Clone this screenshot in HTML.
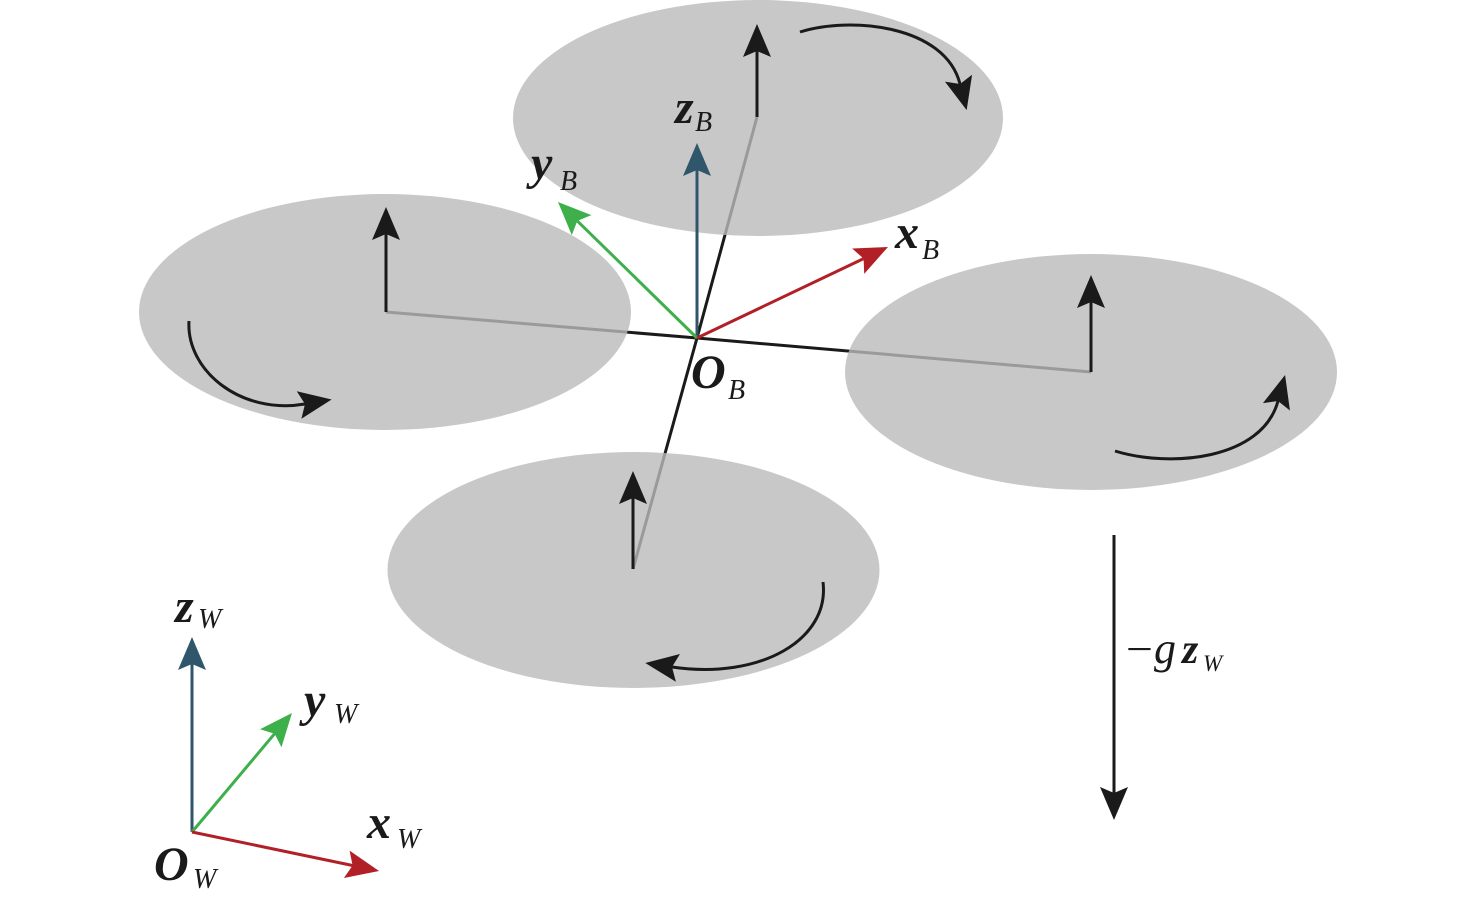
<!DOCTYPE html>
<html>
<head>
<meta charset="utf-8">
<style>
  html,body{margin:0;padding:0;background:#fff;}
  svg{display:block;}
  text{font-family:"Liberation Serif","Times New Roman",Times,serif;}
  .v{font-weight:bold;font-style:italic;font-size:48px;fill:#1a1a1a;}
  .s{font-style:italic;font-size:28px;fill:#1a1a1a;}
</style>
</head>
<body>
<svg width="1476" height="906" viewBox="0 0 1476 906" xmlns="http://www.w3.org/2000/svg">
  <defs>
    <marker id="ak" markerUnits="userSpaceOnUse" markerWidth="34" markerHeight="29" refX="6" refY="14" orient="auto" overflow="visible">
      <path d="M0,0 L33,14 L0,28 L6,14 Z" fill="#1a1a1a"/>
    </marker>
    <marker id="ab" markerUnits="userSpaceOnUse" markerWidth="34" markerHeight="29" refX="6" refY="14" orient="auto" overflow="visible">
      <path d="M0,0 L33,14 L0,28 L6,14 Z" fill="#2f566b"/>
    </marker>
    <marker id="ag" markerUnits="userSpaceOnUse" markerWidth="34" markerHeight="29" refX="6" refY="14" orient="auto" overflow="visible">
      <path d="M0,0 L33,14 L0,28 L6,14 Z" fill="#3db04b"/>
    </marker>
    <marker id="ar" markerUnits="userSpaceOnUse" markerWidth="34" markerHeight="29" refX="6" refY="14" orient="auto" overflow="visible">
      <path d="M0,0 L33,14 L0,28 L6,14 Z" fill="#b22027"/>
    </marker>
  </defs>

  <!-- arms -->
  <g stroke="#1a1a1a" stroke-width="3" fill="none">
    <line x1="697" y1="338" x2="757" y2="117"/>
    <line x1="697" y1="338" x2="386" y2="312"/>
    <line x1="697" y1="338" x2="1091" y2="372"/>
    <line x1="697" y1="338" x2="633" y2="569"/>
  </g>

  <!-- rotor discs -->
  <g fill="rgb(186,186,186)" fill-opacity="0.8">
    <ellipse cx="758" cy="118" rx="245" ry="118"/>
    <ellipse cx="385" cy="312" rx="246" ry="118"/>
    <ellipse cx="1091" cy="372" rx="246" ry="118"/>
    <ellipse cx="633.5" cy="570" rx="246" ry="118"/>
  </g>

  <!-- thrust arrows -->
  <g stroke="#1a1a1a" stroke-width="3" fill="none" marker-end="url(#ak)">
    <line x1="757" y1="117" x2="757" y2="51"/>
    <line x1="386" y1="312" x2="386" y2="234"/>
    <line x1="1091" y1="372" x2="1091" y2="302"/>
    <line x1="633" y1="569" x2="633" y2="498"/>
  </g>

  <!-- rotation arcs -->
  <g stroke="#1a1a1a" stroke-width="3" fill="none" marker-end="url(#ak)">
    <path d="M800,32 C850,16 945,25 960,84"/>
    <path d="M189,321 C186,370 240,415 305,404"/>
    <path d="M1115,451 C1170,468 1262,460 1278,401"/>
    <path d="M823,582 C830,640 760,680 672,667"/>
  </g>

  <!-- body frame axes -->
  <line x1="697" y1="338" x2="697" y2="170" stroke="#2f566b" stroke-width="3" marker-end="url(#ab)"/>
  <line x1="697" y1="338" x2="577.3" y2="220.9" stroke="#3db04b" stroke-width="3" marker-end="url(#ag)"/>
  <line x1="697" y1="338" x2="863.6" y2="258.6" stroke="#b22027" stroke-width="3" marker-end="url(#ar)"/>

  <!-- world frame axes -->
  <line x1="192" y1="832" x2="192" y2="664" stroke="#2f566b" stroke-width="3" marker-end="url(#ab)"/>
  <line x1="192" y1="832" x2="274.6" y2="733.7" stroke="#3db04b" stroke-width="3" marker-end="url(#ag)"/>
  <line x1="192" y1="832" x2="352.6" y2="865.5" stroke="#b22027" stroke-width="3" marker-end="url(#ar)"/>

  <!-- gravity -->
  <line x1="1114" y1="535" x2="1114" y2="793" stroke="#1a1a1a" stroke-width="3" marker-end="url(#ak)"/>

  <!-- labels body -->
  <text class="v" x="675" y="123">z</text><text class="s" x="695" y="131">B</text>
  <text class="v" x="531" y="179">y</text><text class="s" x="560" y="190">B</text>
  <text class="v" x="895" y="248">x</text><text class="s" x="922" y="259">B</text>
  <text class="v" x="691" y="388">O</text><text class="s" x="728" y="399">B</text>

  <!-- labels world -->
  <text class="v" x="175" y="622">z</text><text class="s" x="198" y="628">W</text>
  <text class="v" x="304" y="716">y</text><text class="s" x="334" y="723">W</text>
  <text class="v" x="367" y="838">x</text><text class="s" x="397" y="848">W</text>
  <text class="v" x="154" y="880">O</text><text class="s" x="193" y="888">W</text>

  <!-- gravity label -->
  <text x="1126" y="663" font-size="42" fill="#1a1a1a" textLength="27" lengthAdjust="spacingAndGlyphs">−</text>
  <text x="1154" y="663" font-style="italic" font-size="44" fill="#1a1a1a">g</text>
  <text x="1182" y="663" font-style="italic" font-weight="bold" font-size="42" fill="#1a1a1a">z</text>
  <text x="1203" y="671" font-style="italic" font-size="23" fill="#1a1a1a">W</text>
</svg>
</body>
</html>
